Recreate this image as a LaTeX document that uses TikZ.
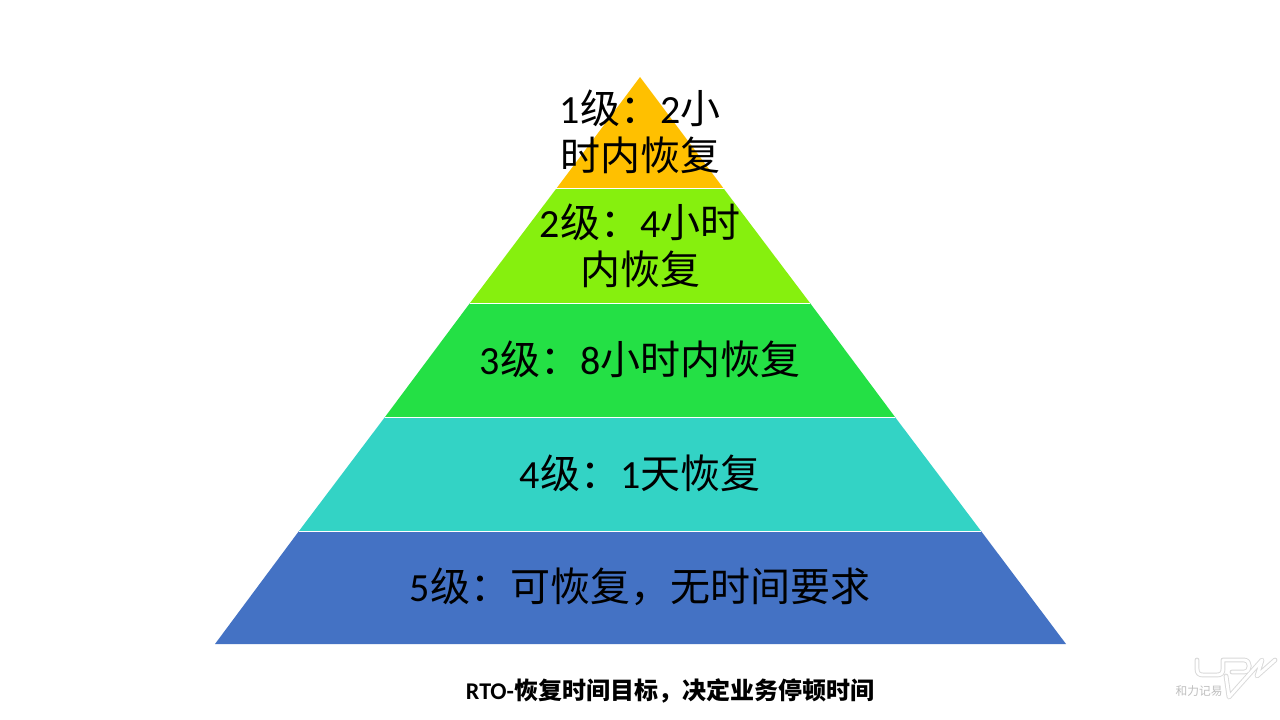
\documentclass[tikz,border=0pt]{standalone}
\usepackage{fontspec}
\setmainfont{Carlito}
\newfontfamily\cjk{Noto Sans CJK SC}
\newfontfamily\cjkb{Noto Sans CJK SC Bold}
\newcommand{\zh}[1]{{\cjk #1}}
\tikzset{
  lvl/.style={font=\fontsize{30}{35}\selectfont,text=black,align=center,inner sep=0pt},
  wmouter/.style={draw=black!15,line width=3.6pt,line join=round,line cap=round},
  wminner/.style={draw=white,line width=2.2pt,line join=round,line cap=round}
}
\begin{document}
\begin{tikzpicture}[x=0.75pt,y=-0.75pt]
\useasboundingbox (0,0) rectangle (1280,720);
\fill[white] (0,0) rectangle (1280,720);
\definecolor{c1}{HTML}{FFC000}
\definecolor{c2}{HTML}{86F00E}
\definecolor{c3}{HTML}{24E045}
\definecolor{c4}{HTML}{33D3C5}
\definecolor{c5}{HTML}{4472C4}
\fill[c1] (640,77) -- (724,189) -- (556,189) -- cycle;
\fill[c2] (556,189) -- (724,189) -- (810,303) -- (470,303) -- cycle;
\fill[c3] (470,303) -- (810,303) -- (895,417) -- (385,417) -- cycle;
\fill[c4] (385,417) -- (895,417) -- (981,531) -- (299,531) -- cycle;
\fill[c5] (299,531) -- (981,531) -- (1066,644) -- (215,644) -- cycle;
\foreach \y/\a/\b in {189/556/724,303/470/810,417/385/895,531/299/981}
  \draw[white,line width=0.75pt] (\a,\y) -- (\b,\y);
\node[lvl] (l1) at (640,132) {1\zh{级：}2\zh{小}\\\zh{时内恢复}};
\node[lvl] (l2) at (640,246) {2\zh{级：}4\zh{小时}\\\zh{内恢复}};
\node[lvl] (l3) at (640,359) {3\zh{级：}8\zh{小时内恢复}};
\node[lvl] (l4) at (640,473) {4\zh{级：}1\zh{天恢复}};
\node[lvl] (l5) at (640,587) {5\zh{级：可恢复，无时间要求}};
\node[font=\bfseries\fontsize{18}{21}\selectfont,inner sep=0pt] (cap) at (670,691) {RTO-{\cjkb 恢复时间目标，决定业务停顿时间}};
% watermark
\def\wmU{(1197,660) -- (1197,669) .. controls (1197,673) and (1199,675) .. (1203,675) -- (1217,675) .. controls (1221,675) and (1223,673) .. (1223,669) -- (1223,660) -- (1244,660) .. controls (1251,660) and (1251,672) .. (1244,672) -- (1232,672)}
\def\wmV{(1226,676) -- (1229,697) -- (1262,660) -- (1257,676) -- (1275,660)}
\draw[wmouter] \wmU; \draw[wmouter] \wmV;
\draw[wminner] \wmU; \draw[wminner] \wmV;
\node[font=\cjk\fontsize{8.8}{10}\selectfont,text=black!25,inner sep=0pt] (wm) at (1199,691) {和力记易};
\end{tikzpicture}
\end{document}
